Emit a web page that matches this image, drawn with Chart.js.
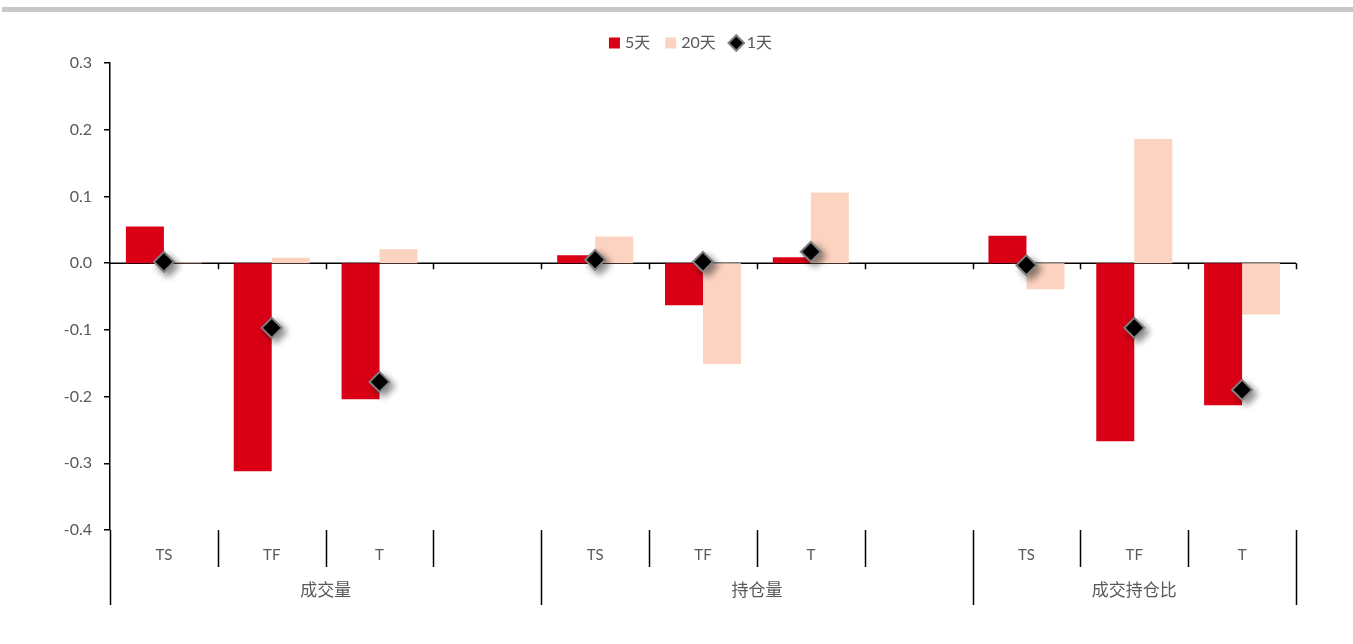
<!DOCTYPE html>
<html>
<head>
<meta charset="utf-8">
<script src="https://cdn.jsdelivr.net/npm/chart.js@4/dist/chart.umd.min.js"></script>
<style>
  html, body { margin: 0; padding: 0; background: #fff; }
  #wrap { width: 1353px; height: 644px; position: relative; }
</style>
</head>
<body>
<div id="wrap"><canvas id="chart" width="1353" height="644"></canvas></div>
<script>
// categories (blank slots separate the groups)
const categories = ["TS", "TF", "T", "", "TS", "TF", "T", "", "TS", "TF", "T"]
const groupLabels = ["成交量", "持仓量", "成交持仓比"]
const groupSpans = [4, 4, 3]

// series values
const fiveDay = [0.055, -0.312, -0.204, null, 0.012, -0.063, 0.009, null, 0.041, -0.267, -0.213]
const twentyDay = [0.001, 0.008, 0.021, null, 0.040, -0.151, 0.106, null, -0.039, 0.186, -0.077]
const oneDay = [0.002, -0.097, -0.178, null, 0.005, 0.002, 0.017, null, -0.003, -0.097, -0.190]

const fontFamily = "Lato, 'Noto Sans CJK SC', sans-serif"
const labelColor = "#595959"

// top grey rule
const topRule = {
  id: "topRule",
  beforeDraw(chart) {
    const ctx = chart.ctx
    ctx.save()
    ctx.fillStyle = "#c8c8c8"
    ctx.fillRect(2, 7, chart.width - 2, 5)
    ctx.restore()
  },
}

// nudge the legend: centred a bit right of the canvas middle, a bit higher
const legendNudge = {
  id: "legendNudge",
  afterLayout(chart) {
    const lg = chart.legend
    if (!lg) return
    const dx = 692 - (lg.left + lg.right) / 2
    lg.left += dx
    lg.right += dx
    lg.top -= 2
    lg.bottom -= 2
  },
}

// soft shadow under the diamonds
const markerShadow = {
  id: "markerShadow",
  beforeDatasetDraw(chart, args) {
    if (args.index !== 2) return
    const ctx = chart.ctx
    ctx.save()
    ctx.shadowColor = "rgba(0,0,0,0.45)"
    ctx.shadowBlur = 7
    ctx.shadowOffsetX = 4
    ctx.shadowOffsetY = 4
  },
  afterDatasetDraw(chart, args) {
    if (args.index !== 2) return
    chart.ctx.restore()
  },
}

// zero line + two-level category axis
const categoryAxis = {
  id: "categoryAxis",
  beforeDatasetsDraw(chart) {
    const { ctx, chartArea: a, scales: { y } } = chart
    const y0 = y.getPixelForValue(0)
    ctx.save()
    ctx.strokeStyle = "#000"
    ctx.lineWidth = 1.5
    ctx.beginPath()
    ctx.moveTo(a.left, y0)
    ctx.lineTo(a.right, y0)
    ctx.stroke()
    ctx.restore()
  },
  afterDraw(chart) {
    const { ctx, chartArea: a, scales: { x, y } } = chart
    const y0 = y.getPixelForValue(0)
    const step = x.getPixelForValue(1) - x.getPixelForValue(0)
    const edge = (i) => x.getPixelForValue(i) - step / 2

    ctx.save()
    ctx.strokeStyle = "#000"
    ctx.lineWidth = 1.5

    // ticks on the zero line
    ctx.beginPath()
    for (let i = 1; i <= categories.length; i++) {
      const px = Math.round(edge(i)) + 0.5
      ctx.moveTo(px, y0)
      ctx.lineTo(px, y0 + 6)
    }
    ctx.stroke()

    // group boundaries (long) and category separators (short)
    const groupEdges = [0]
    groupSpans.forEach((s) => groupEdges.push(groupEdges[groupEdges.length - 1] + s))
    ctx.beginPath()
    for (let i = 0; i <= categories.length; i++) {
      const px = Math.round(edge(i)) + 0.5
      const isGroup = groupEdges.includes(i)
      ctx.moveTo(px, a.bottom)
      ctx.lineTo(px, a.bottom + (isGroup ? 75 : 37))
    }
    ctx.stroke()

    ctx.fillStyle = labelColor
    ctx.textAlign = "center"
    ctx.textBaseline = "middle"
    ctx.font = "15px " + fontFamily
    categories.forEach((c, i) => {
      if (c) ctx.fillText(c, x.getPixelForValue(i), a.bottom + 25)
    })

    ctx.font = "17px " + fontFamily
    groupLabels.forEach((g, k) => {
      const from = groupEdges[k]
      const to = groupEdges[k + 1]
      ctx.fillText(g, (edge(from) + edge(to)) / 2, a.bottom + 61)
    })
    ctx.restore()
  },
}

const ctx = document.getElementById("chart").getContext("2d")
new Chart(ctx, {
  data: {
    labels: categories,
    datasets: [
      {
        type: "bar",
        label: "5天",
        data: fiveDay,
        backgroundColor: "#d90016",
        pointStyle: "rect",
        order: 1,
      },
      {
        type: "bar",
        label: "20天",
        data: twentyDay,
        backgroundColor: "#fbd3c0",
        pointStyle: "rect",
        order: 1,
      },
      {
        type: "line",
        label: "1天",
        data: oneDay,
        showLine: false,
        pointStyle: "rectRot",
        pointRadius: 10,
        pointHoverRadius: 10,
        backgroundColor: "#000",
        borderColor: "#808080",
        pointBorderWidth: 2,
        borderWidth: 2,
        order: 0,
      },
    ],
  },
  options: {
    responsive: false,
    animation: false,
    layout: {
      padding: { left: 0, right: 57, top: 19, bottom: 114 },
    },
    datasets: {
      bar: {
        categoryPercentage: 0.705,
        barPercentage: 1,
      },
    },
    plugins: {
      legend: {
        display: true,
        position: "top",
        labels: {
          usePointStyle: true,
          boxHeight: 11,
          boxWidth: 5,
          padding: 18,
          color: labelColor,
          font: { family: fontFamily, size: 16 },
          sort: (a, b) => a.datasetIndex - b.datasetIndex,
        },
      },
      tooltip: { enabled: false },
    },
    scales: {
      x: {
        display: false,
        offset: true,
      },
      y: {
        min: -0.4,
        max: 0.3,
        afterFit: (scale) => {
          scale.width = 110
        },
        border: { display: true, color: "#000", width: 1.5 },
        grid: {
          drawOnChartArea: false,
          drawTicks: true,
          tickLength: 6,
          color: "#000",
          lineWidth: 1.5,
        },
        ticks: {
          stepSize: 0.1,
          padding: 12,
          color: labelColor,
          font: { family: fontFamily, size: 16 },
          callback: (v) => (Math.abs(v) < 1e-9 ? 0 : Number(v)).toFixed(1),
        },
      },
    },
  },
  plugins: [topRule, legendNudge, markerShadow, categoryAxis],
})
</script>
</body>
</html>
